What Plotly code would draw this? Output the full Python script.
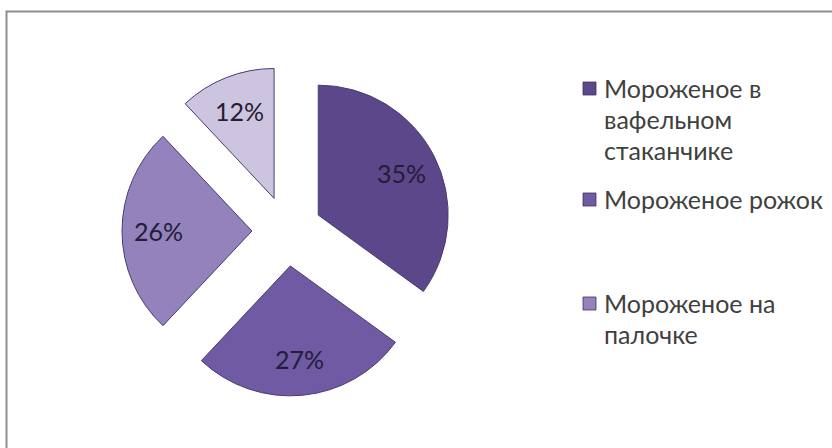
import math
import plotly.graph_objects as go

# Ice-cream preference shares
labels = ["Мороженое в вафельном стаканчике", "Мороженое рожок",
          "Мороженое на палочке", "Другое"]
values = [35, 27, 26, 12]
colors = ["#5b4789", "#6f5aa3", "#9382bb", "#cdc4df"]

# Legend shows the first three categories, label text split into lines
legend_lines = [["Мороженое в", "вафельном", "стаканчике"],
                ["Мороженое рожок"],
                ["Мороженое на", "палочке"]]

W, H = 832, 448
FONT = "Lato, Open Sans, sans-serif"

# pie placement (pixels) and explode amount
pie_x = (122, 452)
pie_y = (66, 396)
pull = 0.27
label_frac = 0.72  # label distance from slice tip, as a fraction of radius

fig = go.Figure()
fig.add_trace(go.Pie(
    labels=labels,
    values=values,
    sort=False,
    direction="clockwise",
    rotation=0,
    pull=[pull] * len(values),
    marker=dict(colors=colors, line=dict(color="#4a3b70", width=1)),
    textinfo="none",
    showlegend=False,
    hoverinfo="label+percent",
    domain=dict(x=[pie_x[0] / W, pie_x[1] / W], y=[1 - pie_y[1] / H, 1 - pie_y[0] / H]),
))

shapes = [
    # chart frame
    dict(type="rect", xref="paper", yref="paper",
         x0=6.5 / W, x1=1.02, y0=-0.02, y1=1 - 11.5 / H,
         line=dict(color="#8e8e8e", width=2), fillcolor="rgba(0,0,0,0)"),
]
annotations = []

# percentage labels placed along each slice's mid-angle
cx = (pie_x[0] + pie_x[1]) / 2
cy = (pie_y[0] + pie_y[1]) / 2
r = (pie_x[1] - pie_x[0]) / 2 / (1 + pull)
total = sum(values)
start = 0.0
for v in values:
    mid = 2 * math.pi * (start + v / 2) / total
    start += v
    dist = r * (pull + label_frac)
    px = cx + dist * math.sin(mid)
    py = cy - dist * math.cos(mid)
    annotations.append(dict(
        text=f"{round(100 * v / total)}%", xref="paper", yref="paper",
        x=px / W, y=1 - py / H, xanchor="center", yanchor="middle", showarrow=False,
        font=dict(family=FONT, size=25, color="#241c38")))

# legend: swatch + text lines
entry_tops = [88, 199, 303]
line_gap = 31
for i, lines in enumerate(legend_lines):
    top = entry_tops[i]
    shapes.append(dict(
        type="rect", xref="paper", yref="paper",
        x0=583 / W, x1=596 / W, y0=1 - (top + 7) / H, y1=1 - (top - 6) / H,
        fillcolor=colors[i], line=dict(color="#3d3160", width=0.8)))
    for j, txt in enumerate(lines):
        annotations.append(dict(
            text=txt, xref="paper", yref="paper",
            x=602 / W, y=1 - (top + j * line_gap) / H,
            xanchor="left", yanchor="middle", showarrow=False,
            font=dict(family=FONT, size=25, color="#404040")))

fig.update_layout(
    width=W, height=H,
    margin=dict(l=0, r=0, t=0, b=0),
    paper_bgcolor="white",
    plot_bgcolor="white",
    shapes=shapes,
    annotations=annotations,
)

fig.write_html("out.html")
